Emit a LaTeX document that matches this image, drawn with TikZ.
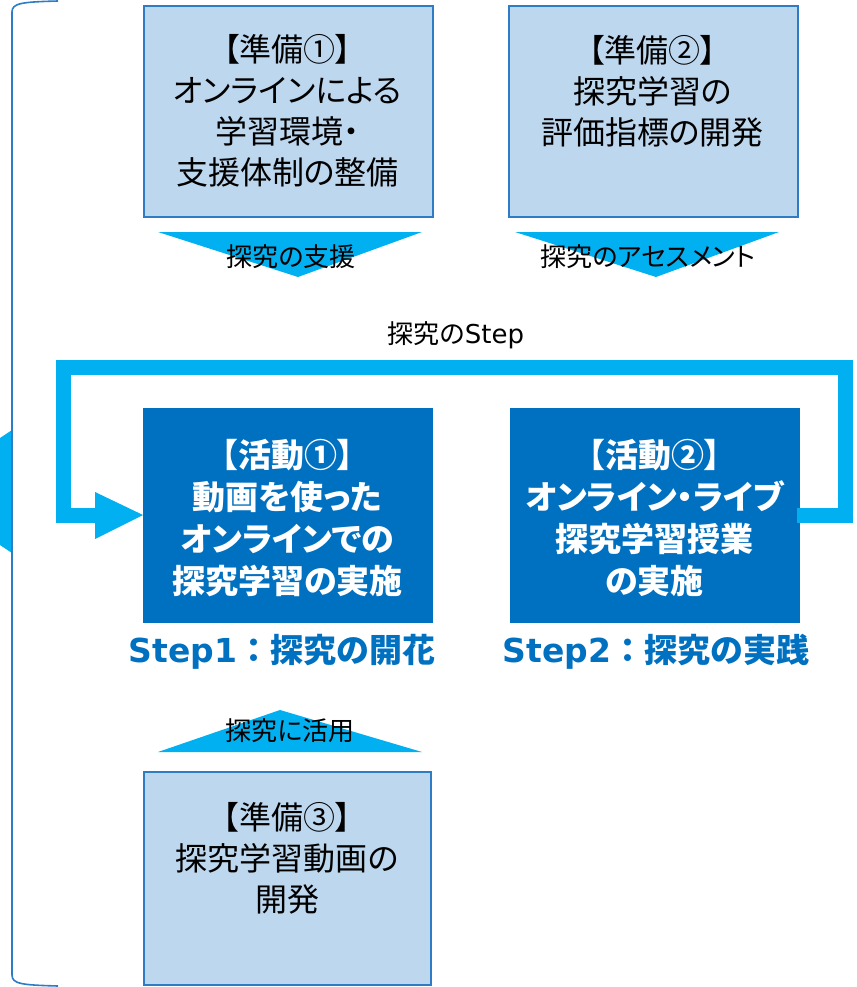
\documentclass[tikz,border=0pt]{standalone}
\usepackage{fontspec}
\newfontfamily\jp[RawFeature=+palt]{Noto Sans CJK JP}
\newfontfamily\jpf{Noto Sans CJK JP}
\newfontfamily\vs{DejaVu Sans}
\definecolor{lightc}{HTML}{BDD7EE}
\definecolor{bordc}{HTML}{2E7CC6}
\definecolor{darkc}{HTML}{0070C0}
\definecolor{cyanc}{HTML}{00B0F0}
\begin{document}
\begin{tikzpicture}[x=1pt,y=-1pt,
  prepbox/.style={draw=bordc, fill=lightc, line width=1.6pt, anchor=north west, inner sep=0pt},
  actbox/.style={draw=darkc, fill=darkc, line width=1pt, anchor=north west, inner sep=0pt},
  ptext/.style={font=\jp\fontsize{32}{41}\selectfont, align=center, text=black, inner sep=0pt},
  atext/.style={font=\jp\bfseries\fontsize{33}{42}\selectfont, align=center, text=white, inner sep=0pt},
  steptext/.style={font=\bfseries\fontsize{33}{38}\selectfont, text=darkc, inner sep=0pt},
  tritext/.style={font=\jp\fontsize{26}{30}\selectfont, text=black, inner sep=0pt},
  brace/.style={draw=bordc, line width=1.6pt}
]
\useasboundingbox (0,0) rectangle (856,987);

% left brace
\fill[cyanc] (12,430) -- (0,438) -- (0,545) -- (12,553) -- cycle;
\draw[brace] (58,1) .. controls (22,2) and (12,3) .. (12,12) -- (12,975) .. controls (12,984) and (22,985) .. (58,986);

% boxes
\node[prepbox, minimum width=289pt, minimum height=211pt] (b1) at (143,5) {};
\node[prepbox, minimum width=289pt, minimum height=211pt] (b2) at (508,5) {};
\node[actbox, minimum width=289pt, minimum height=214pt] (a1) at (143,408) {};
\node[actbox, minimum width=289pt, minimum height=214pt] (a2) at (510,408) {};
\node[prepbox, minimum width=287pt, minimum height=213pt] (b3) at (143,771) {};

% box texts
\node[ptext] (t1) at (287.5,111) {【準備①】\\オンラインによる\\学習環境・\\支援体制の整備};
\node[ptext] (t2) at (652.5,91) {【準備②】\\探究学習の\\評価指標の開発};
\node[atext] (ta1) at (287.5,518) {【活動①】\\動画を使った\\オンラインでの\\探究学習の実施};
\node[atext] (ta2) at (654.5,518) {【活動②】\\オンライン・ライブ\\探究学習授業\\の実施};
\node[ptext] (t3) at (287,858) {【準備③】\\探究学習動画の\\開発};

% step labels
\node[steptext] (s1) at (282,652) {{\vs Step1}{\jpf ：探究の開花}};
\node[steptext] (s2) at (656,652) {{\vs Step2}{\jpf ：探究の実践}};

% triangles
\fill[cyanc] (158,232) -- (422,232) -- (298,277) -- cycle;
\fill[cyanc] (515,232) -- (779,232) -- (656,277) -- cycle;
\fill[cyanc] (158,752) -- (422,752) -- (280,710) -- cycle;
\node[tritext] (l1) at (291,257) {探究の支援};
\node[tritext] (l2) at (648,257) {探究のアセスメント};
\node[tritext] (l3) at (290,731) {探究に活用};
\node[tritext] (l4) at (456,335) {探究の{\vs Step}};

% loop arrow
\coordinate (ls) at (797,515);
\coordinate (le) at (96,515);
\draw[cyanc, line width=15pt] (ls) -- (845,515) -- (845,367) -- (63,367) -- (63,515) -- (le);
\fill[cyanc] (95,492) -- (a1.west |- le) -- (95,539) -- cycle;
\end{tikzpicture}
\end{document}
